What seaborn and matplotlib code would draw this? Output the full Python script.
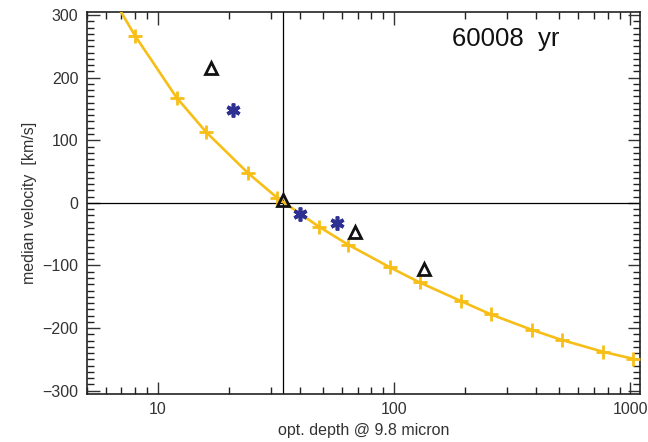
import pandas as pd
import seaborn as sns
import matplotlib.pyplot as plt
from matplotlib.ticker import MultipleLocator, LogLocator, NullFormatter

# model curve (yellow)
model_tau = [6, 8, 12, 16, 24, 32, 48, 64, 96, 128, 192, 256, 384, 512, 768, 1024]
model_vel = [347, 267, 168, 113, 48, 8, -38, -67, -103, -127, -157, -178, -203, -219, -238, -249]

# blue stars
star_tau = [20.7, 40.1, 57.0]
star_vel = [148, -17, -32]

# open triangles
tri_tau = [16.7, 33.9, 68.0, 134.0]
tri_vel = [216, 5, -46, -106]

vline_tau = 33.9

sns.set_theme(style="ticks")
plt.rcParams['font.family'] = ['Liberation Sans', 'DejaVu Sans']

fig = plt.figure(figsize=(6.48, 4.42), dpi=100)
ax = fig.add_axes([0.134, 0.109, 0.854, 0.864])

df = pd.DataFrame({'tau': model_tau, 'vel': model_vel})
sns.lineplot(data=df, x='tau', y='vel', color='#F7BE17', linewidth=1.9,
             marker='+', markersize=10, markeredgewidth=2.0,
             markeredgecolor='#F7BE17', ax=ax, zorder=3)

ax.plot(star_tau, star_vel, linestyle='none', marker=(6, 2, 0), markersize=10,
        markeredgewidth=2.6, color='#2E3192', zorder=4)
ax.plot(tri_tau, tri_vel, linestyle='none', marker='^', markersize=8,
        markerfacecolor='none', markeredgecolor='#111111', markeredgewidth=2.0, zorder=4)

ax.axhline(0, color='black', linewidth=0.9, zorder=2)
ax.axvline(vline_tau, color='black', linewidth=0.9, zorder=2)

ax.set_xscale('log')
ax.set_xlim(5, 1100)
ax.set_ylim(-305, 305)

ax.yaxis.set_major_locator(MultipleLocator(100))
ax.yaxis.set_minor_locator(MultipleLocator(10))
ax.xaxis.set_minor_locator(LogLocator(base=10, subs=range(2, 10)))
ax.xaxis.set_minor_formatter(NullFormatter())
ax.set_xticks([10, 100, 1000])
ax.set_xticklabels(['10', '100', '1000'])
ax.set_yticks([-300, -200, -100, 0, 100, 200, 300])
ax.set_yticklabels(['\u2212300', '\u2212200', '\u2212100', '0', '100', '200', '300'])

ax.tick_params(which='both', direction='in', top=True, right=True, color='#222222')
ax.tick_params(which='major', length=9, width=1, labelsize=11.5, colors='#333333', pad=6)
ax.tick_params(which='minor', length=5, width=1)
for s in ax.spines.values():
    s.set_linewidth(1.2)
    s.set_color('#222222')

ax.set_xlabel('opt. depth @ 9.8 micron', fontsize=11.5, color='#333333')
ax.set_ylabel('median velocity  [km/s]', fontsize=11.5, color='#333333')

ax.text(0.853, 0.93, '60008  yr', transform=ax.transAxes, fontsize=18.5,
        ha='right', va='center', color='#111111')

fig.savefig('out.png', dpi=100)
